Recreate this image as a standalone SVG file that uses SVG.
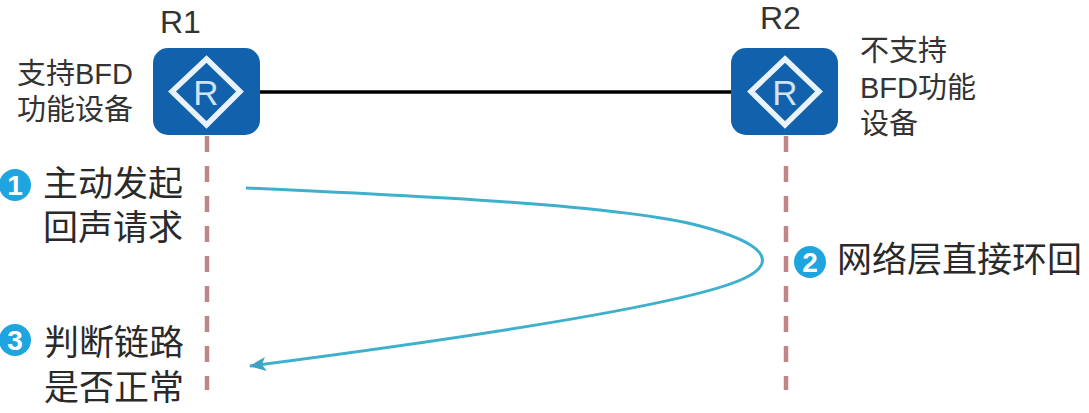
<svg xmlns="http://www.w3.org/2000/svg" width="1089" height="413" viewBox="0 0 1089 413">
<style>
text{font-family:"Liberation Sans","Noto Sans CJK SC",sans-serif;fill:#333}
.s{font-size:29px}
.m{font-size:35px;fill:#2a2a2a}
.b{font-size:32px;fill:#333}
.d{stroke:#c08588;stroke-width:4.500;stroke-dasharray:16 14;fill:none}
.box{fill:#1261ac}
.dia{fill:none;stroke:#eaf3fb;stroke-width:5.500}
.r{font-size:35px;fill:#cfe3f5;text-anchor:middle}
.c{fill:#1ea5df}
.n{font-size:28px;font-weight:bold;fill:#fff;text-anchor:middle}
</style>
<defs>
<marker id="ah" markerWidth="18" markerHeight="14" refX="16" refY="7" orient="auto" markerUnits="userSpaceOnUse"><path d="M0 0L17 7L0 14L4 7Z" fill="#3fa3c6"/></marker>
</defs>
<g id="connectors">
<line x1="260" y1="92" x2="731" y2="92" stroke="#000" stroke-width="3.500"/>
<line class="d" x1="207" y1="136" x2="207" y2="390"/>
<line class="d" x1="786" y1="136" x2="786" y2="390"/>
<path d="M246 188C420 196 620 205 700 226C765 243 778 262 745 278C690 305 450 340 250 366" fill="none" stroke="#3fb0cc" stroke-width="3" marker-end="url(#ah)"/>
</g>
<g id="R1">
<text x="160" y="33" class="b">R1</text>
<rect class="box" x="153" y="48" width="107" height="87" rx="15"/>
<path class="dia" d="M206.500 59L240 91.500L206.500 125L172 91.500Z"/>
<text x="206" y="105" class="r">R</text>
<text x="17" y="84" class="s">支持BFD</text>
<text x="17" y="120" class="s">功能设备</text>
</g>
<g id="R2">
<text x="760" y="29" class="b">R2</text>
<rect class="box" x="731" y="48" width="107" height="87" rx="15"/>
<path class="dia" d="M785 59L819 91.500L785 125L751 91.500Z"/>
<text x="785" y="105" class="r">R</text>
<text x="860" y="61" class="s">不支持</text>
<text x="860" y="98" class="s">BFD功能</text>
<text x="860" y="134" class="s">设备</text>
</g>
<g id="step1">
<circle class="c" cx="15" cy="185" r="16"/>
<text x="15" y="195" class="n">1</text>
<text x="43" y="196" class="m">主动发起</text>
<text x="43" y="240" class="m">回声请求</text>
</g>
<g id="step2">
<circle class="c" cx="810" cy="262" r="16"/>
<text x="810" y="272" class="n">2</text>
<text x="837" y="272" class="m">网络层直接环回</text>
</g>
<g id="step3">
<circle class="c" cx="15" cy="340" r="16"/>
<text x="15" y="350" class="n">3</text>
<text x="44" y="355" class="m">判断链路</text>
<text x="44" y="400" class="m">是否正常</text>
</g>
</svg>
